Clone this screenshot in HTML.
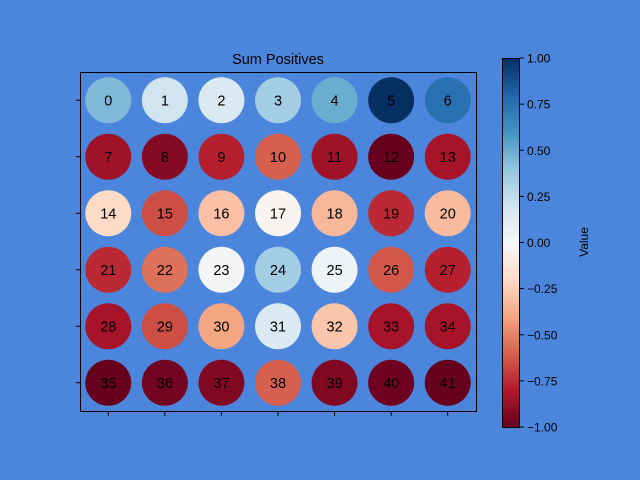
<!DOCTYPE html>
<html><head><meta charset="utf-8"><style>
html,body{margin:0;padding:0;background:#4c86dc;}
svg{display:block;font-family:"Liberation Sans","DejaVu Sans",sans-serif;}
</style></head><body>
<svg id="chart" width="640" height="480" viewBox="0 0 640 480">
<defs>
<linearGradient id="cbgrad" x1="0" y1="1" x2="0" y2="0">
<stop offset="0" stop-color="#67001f"/><stop offset="0.1" stop-color="#b2182b"/><stop offset="0.2" stop-color="#d6604d"/><stop offset="0.3" stop-color="#f4a582"/><stop offset="0.4" stop-color="#fddbc7"/><stop offset="0.5" stop-color="#f7f7f7"/><stop offset="0.6" stop-color="#d1e5f0"/><stop offset="0.7" stop-color="#92c5de"/><stop offset="0.8" stop-color="#4393c3"/><stop offset="0.9" stop-color="#2166ac"/><stop offset="1" stop-color="#053061"/>
</linearGradient>
</defs>
<rect x="0" y="0" width="640" height="480" fill="#4c86dc"/>
<text x="278" y="64" text-anchor="middle" font-size="14.5" fill="#000">Sum Positives</text>
<g id="marks"></g>
<rect x="80.5" y="72.5" width="396" height="339" fill="none" stroke="#000" stroke-width="1"/>
<g id="ticks"></g>
<rect x="502.5" y="58.5" width="17" height="369" fill="url(#cbgrad)" stroke="#000" stroke-width="1"/>
<g id="cbticks"></g>
<text transform="translate(588,242) rotate(-90)" text-anchor="middle" font-size="12">Value</text>
</svg>
<script>
const values = [0.45,0.2,0.15,0.35,0.5,1.0,0.75,
-0.85,-0.92,-0.78,-0.6,-0.85,-1.0,-0.83,
-0.2,-0.65,-0.3,-0.02,-0.33,-0.75,-0.32,
-0.75,-0.55,0.02,0.35,0.05,-0.62,-0.78,
-0.83,-0.65,-0.4,0.15,-0.28,-0.83,-0.83,
-1.0,-0.97,-0.93,-0.6,-0.93,-0.98,-1.0];
const nCols = 7;
const nRows = 6;
const cbTicks = [-1,-0.75,-0.5,-0.25,0,0.25,0.5,0.75,1];
const cbLabels = ["−1.00","−0.75","−0.50","−0.25","0.00","0.25","0.50","0.75","1.00"];
const stops=["#67001f","#b2182b","#d6604d","#f4a582","#fddbc7","#f7f7f7","#d1e5f0","#92c5de","#4393c3","#2166ac","#053061"];
function hex(h){return [1,3,5].map(i=>parseInt(h.substr(i,2),16));}
function cmap(v){let t=(Math.max(-1,Math.min(1,v))+1)/2*10;let i=Math.min(9,Math.floor(t));let f=t-i;let a=hex(stops[i]),b=hex(stops[i+1]);return "rgb("+a.map((c,k)=>Math.round(c+(b[k]-c)*f)).join(",")+")";}
function xs(c){return 80+396*(c+0.5)/nCols;}
function ys(r){return 72+339*(r+0.5)/nRows;}
function cy(v){return 427-369*(v+1)/2;}
const NS="http://www.w3.org/2000/svg";
const g=document.getElementById("marks");
values.forEach((v,i)=>{
 const c=i%nCols,r=Math.floor(i/nCols);
 const ci=document.createElementNS(NS,"circle");
 ci.setAttribute("cx",xs(c));ci.setAttribute("cy",ys(r));ci.setAttribute("r",23);ci.setAttribute("fill",cmap(v));
 
 
 g.appendChild(ci);
 const t=document.createElementNS(NS,"text");
 t.setAttribute("x",xs(c));t.setAttribute("y",ys(r)+5);t.setAttribute("text-anchor","middle");t.setAttribute("font-size","14.5");
 t.textContent=i;
 
 
 g.appendChild(t);
});
const tg=document.getElementById("ticks");
for(let c=0;c<nCols;c++){const l=document.createElementNS(NS,"line");l.setAttribute("x1",xs(c));l.setAttribute("x2",xs(c));l.setAttribute("y1",411.5);l.setAttribute("y2",416);l.setAttribute("stroke","#000");
 
 
 tg.appendChild(l);}
for(let r=0;r<nRows;r++){const l=document.createElementNS(NS,"line");l.setAttribute("x1",76);l.setAttribute("x2",80.5);l.setAttribute("y1",ys(r));l.setAttribute("y2",ys(r));l.setAttribute("stroke","#000");
 
 
 tg.appendChild(l);}
const cg=document.getElementById("cbticks");
cbTicks.forEach((v,i)=>{
 const l=document.createElementNS(NS,"line");l.setAttribute("x1",519.5);l.setAttribute("x2",524);l.setAttribute("y1",cy(v));l.setAttribute("y2",cy(v));l.setAttribute("stroke","#000");
 
 
 cg.appendChild(l);
 const t=document.createElementNS(NS,"text");t.setAttribute("x",527);t.setAttribute("y",cy(v)+4.5);t.setAttribute("font-size","12");t.textContent=cbLabels[i];
 
 
 cg.appendChild(t);
});
</script>
</body></html>
